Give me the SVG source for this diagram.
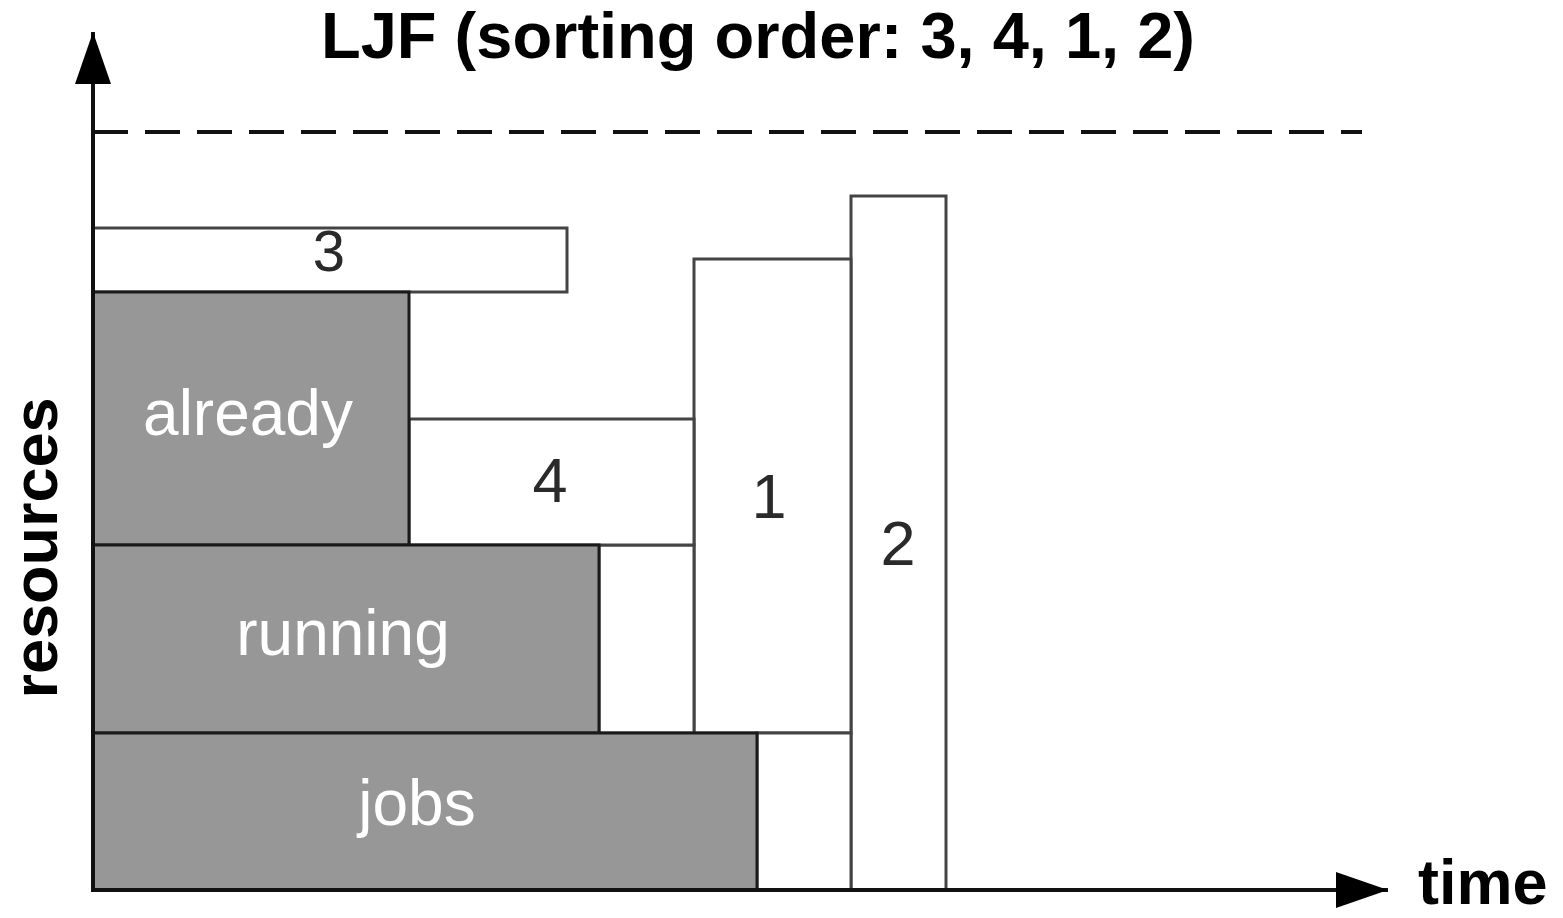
<svg xmlns="http://www.w3.org/2000/svg" width="1563" height="918" viewBox="0 0 1563 918">
<style>
.box{fill:#fff;stroke:#444;stroke-width:3}
.job{fill:#979797;stroke:#1a1a1a;stroke-width:3}
.num{font-family:"Liberation Sans",Arial,sans-serif;fill:#2a2a2a;text-anchor:middle}
.lbl{font-family:"Liberation Sans",Arial,sans-serif;fill:#fff;font-size:64px;text-anchor:middle}
.bold{font-family:"Liberation Sans",Arial,sans-serif;font-weight:bold;fill:#000}
.axis{stroke:#111;stroke-width:4;fill:none}
</style>
<defs>
<marker id="ah" markerUnits="userSpaceOnUse" markerWidth="60" markerHeight="40" refX="52" refY="18" orient="auto">
<path d="M0,0 L52,18 L0,36 Z" fill="#000"/>
</marker>
</defs>
<rect width="1563" height="918" fill="#fff"/>
<text class="bold" x="758" y="58" font-size="65" text-anchor="middle">LJF (sorting order: 3, 4, 1, 2)</text>
<g id="box2"><rect class="box" x="851" y="196" width="95" height="694"/><text class="num" x="898" y="565" font-size="63">2</text></g>
<g id="box1"><rect class="box" x="694" y="259" width="157" height="474"/><text class="num" x="769" y="518" font-size="63">1</text></g>
<g id="gap2"><rect class="box" x="757" y="733" width="94" height="157"/></g>
<g id="gap1"><rect class="box" x="599" y="545" width="95" height="188"/></g>
<g id="box4"><rect class="box" x="409" y="419" width="285" height="126"/><text class="num" x="550" y="502" font-size="63">4</text></g>
<g id="box3"><rect class="box" x="93" y="228" width="474" height="64"/><text class="num" x="329" y="271" font-size="58">3</text></g>
<g id="already"><rect class="job" x="93" y="292" width="316" height="253"/><text class="lbl" x="248" y="435">already</text></g>
<g id="running"><rect class="job" x="93" y="545" width="506" height="188"/><text class="lbl" x="343" y="655">running</text></g>
<g id="jobs"><rect class="job" x="93" y="733" width="664" height="157"/><text class="lbl" x="417" y="825">jobs</text></g>
<g id="connectors">
<line x1="93" y1="132" x2="1362" y2="132" stroke="#111" stroke-width="4" stroke-dasharray="35 17"/>
<line class="axis" x1="93" y1="892" x2="93" y2="32" marker-end="url(#ah)"/>
<line class="axis" x1="91" y1="890" x2="1388" y2="890" marker-end="url(#ah)"/>
</g>
<text class="bold" x="1418" y="904" font-size="63">time</text>
<text class="bold" transform="translate(57,548) rotate(-90)" font-size="63" text-anchor="middle">resources</text>
</svg>
